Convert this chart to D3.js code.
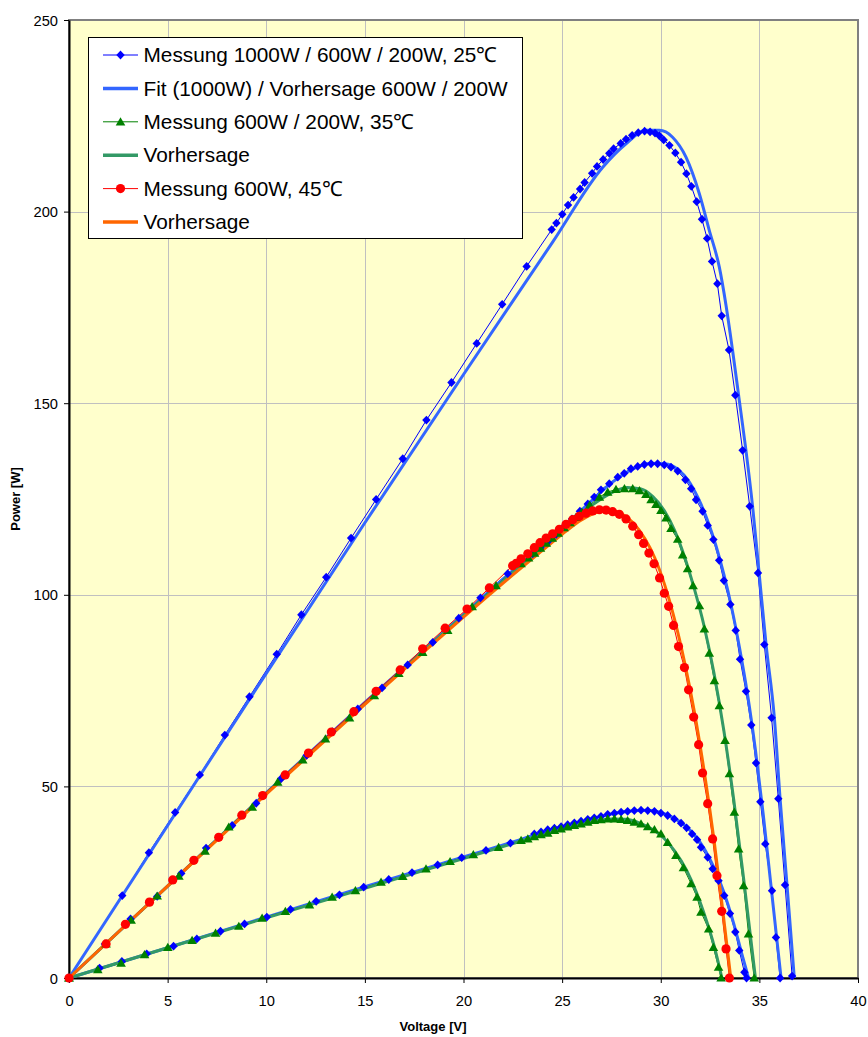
<!DOCTYPE html>
<html><head><meta charset="utf-8">
<script src="https://cdn.jsdelivr.net/npm/d3@7"></script>
<style>
html,body{margin:0;padding:0;background:#fff;}
svg{display:block;font-family:Arial,"Liberation Sans",sans-serif;}
</style></head>
<body>
<svg id="chart" width="868" height="1037"></svg>
<script>
// ---------- DATA (Voltage [V], Power [W]) ----------
const xTicks = [0,5,10,15,20,25,30,35,40];
const yTicks = [0,50,100,150,200,250];
const legendLabels = [
  "Messung 1000W / 600W / 200W, 25\u2103",
  "Fit (1000W) / Vorhersage 600W / 200W",
  "Messung 600W / 200W, 35\u2103",
  "Vorhersage",
  "Messung 600W, 45\u2103",
  "Vorhersage"
];

// Messung 25°C
const meas25_1000 = [[0,0],[2.70,21.5],[4.05,32.7],[5.38,43.2],[6.63,53.0],[7.90,63.4],[9.15,73.4],[10.53,84.5],[11.78,94.8],[13.04,104.6],[14.30,114.8],[15.57,124.9],[16.92,135.5],[18.12,145.6],[19.39,155.4],[20.67,165.6],[21.96,175.8],[23.20,185.7],[24.47,195.3],[24.71,197.0],[25.01,199.3],[25.30,201.7],[25.58,203.7],[25.91,205.9],[26.14,207.6],[26.52,210.0],[26.77,211.8],[27.08,213.6],[27.39,215.2],[27.61,216.4],[27.97,217.8],[28.24,218.9],[28.55,219.9],[28.86,220.6],[29.18,221.0],[29.46,220.8],[29.71,220.5],[29.93,219.8],[30.15,218.7],[30.44,217.3],[30.74,215.3],[31.03,212.9],[31.30,209.9],[31.55,206.6],[31.82,202.6],[32.09,198.0],[32.35,193.0],[32.60,187.0],[32.87,181.2],[33.09,172.8],[33.46,163.9],[33.78,152.1],[34.15,137.7],[34.51,123.1],[34.93,105.7],[35.25,87.0],[35.62,67.9],[35.96,46.8],[36.30,24.3],[36.66,0.5]];
const meas25_600 = [[0,0],[1.82,8.9],[3.12,15.4],[4.47,21.3],[5.69,27.3],[6.95,33.9],[8.27,39.8],[9.49,45.6],[10.75,52.0],[12.05,58.1],[13.35,64.3],[14.64,70.2],[15.87,75.7],[17.17,81.7],[18.44,87.6],[19.76,93.9],[20.86,99.2],[22.24,105.5],[23.51,110.7],[23.9,112.3],[24.3,114.0],[24.7,115.8],[25.1,117.8],[25.5,119.8],[25.9,121.8],[26.3,123.7],[26.63,125.5],[26.97,127.4],[27.39,129.0],[27.82,130.7],[28.15,131.7],[28.49,132.9],[28.83,133.5],[29.17,134.0],[29.51,134.2],[29.84,134.2],[30.18,133.9],[30.52,133.3],[30.86,132.3],[31.25,130.0],[31.54,127.7],[31.79,124.8],[32.12,121.8],[32.38,118.1],[32.67,114.4],[32.96,109.0],[33.20,103.7],[33.53,97.5],[33.80,90.7],[34.02,83.2],[34.32,74.8],[34.59,66.0],[34.83,56.1],[35.05,46.0],[35.30,35.0],[35.64,22.8],[35.84,10.6],[36.05,0]];
const meas25_200 = [[0,0],[1.55,2.6],[2.68,4.3],[3.94,6.3],[5.30,8.3],[6.48,10.2],[7.68,12.2],[8.90,14.1],[10.03,15.9],[11.23,17.9],[12.53,20.0],[13.71,21.7],[14.94,23.7],[16.21,25.7],[17.39,27.5],[18.69,29.5],[19.91,31.4],[21.14,33.3],[22.38,35.2],[23.59,37.6],[23.93,38.1],[24.27,38.7],[24.61,39.1],[24.95,39.5],[25.28,40.0],[25.62,40.5],[25.96,40.9],[26.30,41.4],[26.63,41.8],[26.97,42.2],[27.31,42.7],[27.65,43.0],[27.99,43.3],[28.32,43.5],[28.66,43.7],[29.00,43.8],[29.34,43.7],[29.68,43.5],[30.01,43.0],[30.35,42.4],[30.69,41.5],[31.03,40.4],[31.31,39.2],[31.59,37.6],[31.84,36.1],[32.04,34.1],[32.38,31.5],[32.63,28.5],[32.93,25.4],[33.22,21.5],[33.51,16.8],[33.78,12.0],[33.98,7.2],[34.24,1.5],[34.35,0]];

// Fit / Vorhersage 25°C
const fit25_1000 = [[0,0],[5,39.8],[10,79.5],[15,118.8],[20,157.5],[24.5,191.9],[27.06,211.6],[28.24,217.7],[29.25,221.2],[29.93,221.2],[30.6,219.4],[31.28,214.2],[31.96,204.6],[32.46,195.1],[32.97,185.5],[33.31,175.5],[33.64,163.8],[33.98,150.8],[34.32,137.7],[34.66,122.9],[34.99,105.5],[35.34,87.0],[35.76,67.9],[36.05,46.8],[36.40,24.3],[36.77,0]];
const fit25_600 = [[0,0],[5,24.0],[10,48.3],[15,71.9],[20,94.9],[22.5,106.3],[25,117.3],[26.5,124.6],[27.5,129.2],[28.5,132.6],[29.5,134.3],[30.2,134.2],[30.9,132.6],[31.4,129.8],[31.9,125.2],[32.4,119.0],[32.8,112.8],[33.2,105.3],[33.6,96.5],[34.0,86.0],[34.4,74.0],[34.8,59.5],[35.2,42.5],[35.6,23.5],[36.1,0]];
const fit25_200 = [[0,0],[5,7.9],[10,15.9],[15,23.8],[20,31.6],[22.5,35.5],[25,39.5],[26.5,41.5],[27.5,42.8],[28.5,43.6],[29.3,43.8],[30.0,43.2],[30.6,41.9],[31.2,39.9],[31.7,37.4],[32.2,33.8],[32.7,28.8],[33.2,22.4],[33.7,14.2],[34.1,6.5],[34.45,0]];

// Messung 35°C
const meas35_600 = [[0,0],[1.88,8.9],[3.15,15.1],[4.47,21.4],[5.57,26.6],[6.90,33.1],[8.10,39.4],[9.29,44.6],[10.58,51.1],[11.85,56.9],[13.0,62.4],[14.22,67.9],[15.48,73.7],[16.72,79.5],[17.93,85.0],[19.20,90.7],[20.44,96.9],[21.65,102.4],[22.92,108.1],[23.3,109.6],[23.6,110.9],[23.9,112.2],[24.2,113.5],[24.5,114.8],[24.8,116.1],[25.1,117.5],[25.4,118.8],[25.7,120.2],[26.0,121.6],[26.4,123.4],[26.89,125.5],[27.31,126.8],[27.73,127.5],[28.16,127.7],[28.58,127.7],[28.92,127.2],[29.25,126.2],[29.51,124.8],[29.76,123.6],[30.01,122.0],[30.27,120.1],[30.52,117.3],[30.86,114.5],[31.11,110.4],[31.36,106.8],[31.64,102.4],[31.96,97.2],[32.21,91.1],[32.46,84.8],[32.72,77.6],[32.97,71.1],[33.26,62.0],[33.48,53.3],[33.73,43.3],[33.95,33.7],[34.20,24.1],[34.45,11.5],[34.74,0]];
const meas35_200 = [[0,0],[1.46,2.2],[2.64,3.9],[3.83,6.1],[5.01,8.0],[6.24,9.8],[7.43,11.7],[8.61,13.5],[9.79,15.6],[10.97,17.4],[12.19,19.1],[13.34,21.1],[14.52,22.8],[15.82,25.0],[16.92,26.5],[18.10,28.5],[19.32,30.4],[20.50,32.2],[21.78,34.1],[22.92,35.9],[23.26,36.3],[23.59,36.9],[23.93,37.4],[24.27,37.8],[24.61,38.5],[24.95,38.9],[25.28,39.4],[25.62,39.8],[25.96,40.2],[26.30,40.7],[26.63,41.1],[26.97,41.3],[27.31,41.5],[27.65,41.5],[27.99,41.4],[28.32,41.1],[28.66,40.7],[29.00,40.2],[29.34,39.5],[29.68,38.7],[30.01,37.6],[30.35,35.4],[30.77,32.0],[31.15,28.8],[31.54,24.6],[31.84,21.1],[32.04,17.2],[32.43,12.8],[32.67,8.0],[32.93,2.8],[33.06,0]];
// Vorhersage 35°C
const fit35_600 = [[0,0],[5,24.0],[10,48.2],[15,71.6],[20,94.6],[22.5,105.8],[25,116.8],[26.5,123.3],[27.5,126.6],[28.3,128.0],[29.0,127.6],[29.6,125.6],[30.2,121.8],[30.7,116.8],[31.2,110.0],[31.7,101.6],[32.2,91.8],[32.7,79.5],[33.2,64.5],[33.7,46.5],[34.2,26.0],[34.8,0]];
const fit35_200 = [[0,0],[5,7.9],[10,15.7],[15,23.4],[20,31.2],[22.5,35.1],[25,38.9],[26.5,40.8],[27.5,41.5],[28.2,41.4],[28.9,40.5],[29.5,39.0],[30.1,36.8],[30.7,33.2],[31.3,28.2],[31.8,22.4],[32.3,15.2],[32.7,8.5],[33.1,0]];

// Messung / Vorhersage 45°C
const meas45_600 = [[0,0],[1.88,8.9],[2.86,14.0],[4.08,19.8],[5.26,25.6],[6.33,30.7],[7.59,36.7],[8.76,42.5],[9.82,47.6],[10.96,53.0],[12.14,58.7],[13.3,64.2],[14.44,69.5],[15.57,74.8],[16.79,80.4],[17.93,85.9],[19.07,91.3],[20.18,96.3],[21.31,101.8],[22.49,107.6],[22.67,108.2],[22.92,109.4],[23.26,110.7],[23.59,112.3],[23.88,113.6],[24.19,114.8],[24.52,115.9],[24.86,117.1],[25.20,118.4],[25.54,119.6],[25.87,120.5],[26.21,121.3],[26.55,121.9],[26.89,122.2],[27.23,122.1],[27.56,121.7],[27.90,121.0],[28.24,119.8],[28.58,117.9],[28.88,115.7],[29.13,113.4],[29.40,110.9],[29.66,108.1],[29.94,104.4],[30.18,100.4],[30.40,97.0],[30.65,92.0],[30.90,86.5],[31.20,81.0],[31.41,75.2],[31.67,68.1],[31.92,60.9],[32.12,53.5],[32.38,45.5],[32.63,36.3],[32.85,26.7],[33.09,17.4],[33.31,7.6],[33.48,0]];
const fit45_600 = [[0,0],[5,24.0],[10,48.0],[15,71.4],[20,94.2],[22.5,105.2],[24,111.6],[25,115.8],[26,119.6],[26.8,121.6],[27.4,122.0],[28.0,121.2],[28.6,118.8],[29.2,114.6],[29.7,109.6],[30.2,102.6],[30.7,93.6],[31.2,82.6],[31.7,69.6],[32.2,54.0],[32.7,36.0],[33.1,19.5],[33.55,0]];

// ---------- CHART ----------
const svg = d3.select("#chart");
const L = 69, R = 858, T = 20, B = 978;
const x = d3.scaleLinear().domain([0,40]).range([L,R]);
const y = d3.scaleLinear().domain([0,250]).range([B,T]);

// plot area
svg.append("rect").attr("x",L).attr("y",T).attr("width",R-L).attr("height",B-T)
   .attr("fill","#FFFFCC");

// grid
const g = svg.append("g");
g.selectAll("line.vx").data(xTicks.slice(1,-1)).join("line")
  .attr("x1",d=>Math.round(x(d))+0.5).attr("x2",d=>Math.round(x(d))+0.5)
  .attr("y1",T).attr("y2",B).attr("stroke","#C0C0C0").attr("stroke-width",1);
g.selectAll("line.hy").data(yTicks.slice(1,-1)).join("line")
  .attr("y1",d=>Math.round(y(d))+0.5).attr("y2",d=>Math.round(y(d))+0.5)
  .attr("x1",L).attr("x2",R).attr("stroke","#C0C0C0").attr("stroke-width",1);

// border (gray) top & right
svg.append("rect").attr("x",L).attr("y",T).attr("width",R-L).attr("height",B-T)
   .attr("fill","none").attr("stroke","#808080").attr("stroke-width",2);

// axes
const xAxis = d3.axisBottom(x).tickValues(xTicks).tickSize(5).tickSizeOuter(0).tickFormat(d3.format("d"));
const yAxis = d3.axisLeft(y).tickValues(yTicks).tickSize(5).tickSizeOuter(0).tickFormat(d3.format("d"));
const gx = svg.append("g").attr("transform",`translate(0,${B})`).call(xAxis);
const gy = svg.append("g").attr("transform",`translate(${L},0)`).call(yAxis);
[gx,gy].forEach(a=>{
  a.select(".domain").attr("stroke","#000").attr("stroke-width",2);
  a.selectAll(".tick line").attr("stroke","#000").attr("stroke-width",1);
  a.selectAll(".tick text").attr("fill","#000").style("font-size","14.7px")
   .style("font-family","Arial,'Liberation Sans',sans-serif");
});
gx.selectAll(".tick text").attr("y",28).attr("dy","0");
gy.selectAll(".tick text").attr("x",-11).attr("dy","0.35em");

// axis titles
svg.append("text").attr("x",433).attr("y",1031).attr("text-anchor","middle")
  .style("font-size","13px").style("font-weight","bold").text("Voltage [V]");
svg.append("text").attr("transform",`translate(20,${(T+B)/2}) rotate(-90)`).attr("text-anchor","middle")
  .style("font-size","13px").style("font-weight","bold").text("Power [W]");

// lines
const line = d3.line().x(d=>x(d[0])).y(d=>y(d[1]));
const smooth = d3.line().x(d=>x(d[0])).y(d=>y(d[1])).curve(d3.curveMonotoneX);
const clr = {blue:"#0000FF", fitBlue:"#3366FF", green:"#008000", fitGreen:"#339966", red:"#FF0000", fitOrange:"#FF6600"};
const lines = svg.append("g");
function drawLine(data,color,w,gen){
  lines.append("path").datum(data).attr("d",gen).attr("fill","none")
    .attr("stroke",color).attr("stroke-width",w).attr("stroke-linejoin","round");
}
[meas25_1000,meas25_600,meas25_200].forEach(s=>drawLine(s,clr.blue,1,line));
[fit25_1000,fit25_600,fit25_200].forEach(s=>drawLine(s,clr.fitBlue,3,smooth));
[meas35_600,meas35_200].forEach(s=>drawLine(s,clr.green,1,line));
[fit35_600,fit35_200].forEach(s=>drawLine(s,clr.fitGreen,3,smooth));
drawLine(meas45_600,clr.red,1,line);
drawLine(fit45_600,clr.fitOrange,3,smooth);

// markers
const diamond = "M0,-4.4L4.2,0L0,4.4L-4.2,0Z";
const triangle = "M0,-4.6L4.8,3.6L-4.8,3.6Z";
const mk = svg.append("g");
function drawMarkers(data,shape,color){
  if(shape==="circle"){
    mk.append("g").selectAll("circle").data(data).join("circle")
      .attr("cx",d=>x(d[0])).attr("cy",d=>y(d[1])).attr("r",4.6).attr("fill",color);
  } else {
    mk.append("g").selectAll("path").data(data).join("path")
      .attr("transform",d=>`translate(${x(d[0])},${y(d[1])})`).attr("d",shape).attr("fill",color);
  }
}
[meas25_1000,meas25_600,meas25_200].forEach(s=>drawMarkers(s,diamond,clr.blue));
[meas35_600,meas35_200].forEach(s=>drawMarkers(s,triangle,clr.green));
drawMarkers(meas45_600,"circle",clr.red);

// legend
const lg = svg.append("g");
lg.append("rect").attr("x",88.5).attr("y",37.5).attr("width",434).attr("height",201)
  .attr("fill","#fff").attr("stroke","#000").attr("stroke-width",1);
const legendStyle = [
  {c:clr.blue,w:1,m:"diamond"},{c:clr.fitBlue,w:3.5,m:null},
  {c:clr.green,w:1,m:"triangle"},{c:clr.fitGreen,w:3.5,m:null},
  {c:clr.red,w:1,m:"circle"},{c:clr.fitOrange,w:3.5,m:null}
];
const rowY = i => 55 + i*33.4;
legendLabels.forEach((t,i)=>{
  const s = legendStyle[i], yy = rowY(i);
  lg.append("line").attr("x1",103).attr("x2",138).attr("y1",yy).attr("y2",yy)
    .attr("stroke",s.c).attr("stroke-width",s.w);
  if(s.m==="diamond") lg.append("path").attr("transform",`translate(120.5,${yy})`).attr("d",diamond).attr("fill",s.c);
  if(s.m==="triangle") lg.append("path").attr("transform",`translate(120.5,${yy})`).attr("d",triangle).attr("fill",s.c);
  if(s.m==="circle") lg.append("circle").attr("cx",120.5).attr("cy",yy).attr("r",4.6).attr("fill",s.c);
  lg.append("text").attr("x",143.5).attr("y",yy).attr("dy","0.35em")
    .style("font-size","20.8px").attr("fill","#000").text(t);
});
</script>
</body></html>
